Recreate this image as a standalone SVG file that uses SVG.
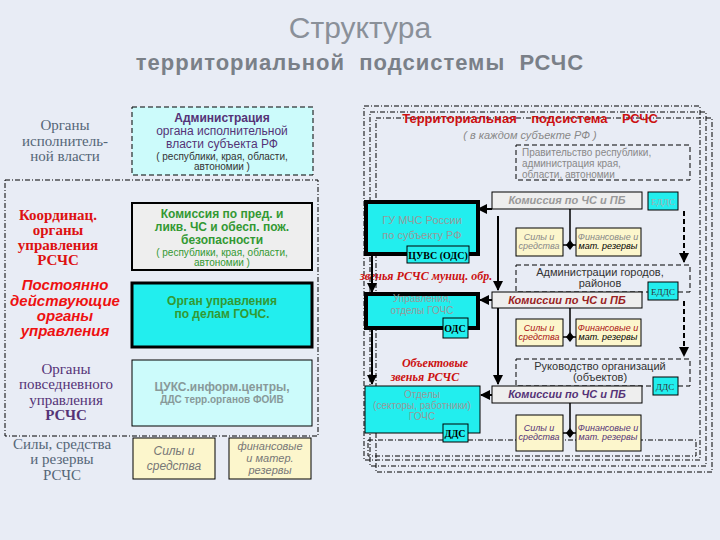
<svg xmlns="http://www.w3.org/2000/svg" width="720" height="540" viewBox="0 0 720 540">
<defs>
<marker id="ar" viewBox="0 0 10 10" refX="9" refY="5" markerWidth="5" markerHeight="5" orient="auto"><path d="M0,0L10,5L0,10z" fill="#000"/></marker>
</defs>
<style>
.s{font-family:"Liberation Sans",Arial,sans-serif}
.r{font-family:"Liberation Serif","Times New Roman",serif}
.lc{fill:#ccfbfb}
.cy{fill:#22eeee}
.ye{fill:#fcf6cc;stroke:#000;stroke-width:1}
.dd{stroke:#000;stroke-width:1;stroke-dasharray:5,3}
.dt{fill:none;stroke:#000;stroke-width:1;stroke-dasharray:5,2,1,2}
.ln{stroke:#000;stroke-width:2;fill:none}
</style>
<rect width="720" height="540" fill="#e8ecf5"/>
<text class="s" x="360" y="38" font-size="30" fill="#8a9099" text-anchor="middle">Структура</text>
<text class="s" x="360" y="70" font-size="22" font-weight="bold" fill="#7a8088" text-anchor="middle" letter-spacing="1" xml:space="preserve">территориальной  подсистемы  РСЧС</text>

<g id="left-labels" class="r" text-anchor="middle">
<text x="65" y="130" font-size="15" fill="#556677">Органы</text>
<text x="65" y="146" font-size="15" fill="#556677">исполнитель-</text>
<text x="65" y="161" font-size="15" fill="#556677">ной власти</text>
<text x="58" y="220" font-size="15" font-weight="bold" fill="#dd1111">Координац.</text>
<text x="58" y="235" font-size="15" font-weight="bold" fill="#dd1111">органы</text>
<text x="58" y="250" font-size="15" font-weight="bold" fill="#dd1111">управления</text>
<text x="58" y="265" font-size="15" font-weight="bold" fill="#dd1111">РСЧС</text>
<text x="66" y="374" font-size="15" fill="#553377">Органы</text>
<text x="66" y="389" font-size="15" fill="#553377">повседневного</text>
<text x="66" y="405" font-size="15" fill="#553377">управления</text>
<text x="66" y="420" font-size="15" font-weight="bold" fill="#553377">РСЧС</text>
<text x="62" y="449" font-size="15" fill="#556677">Силы, средства</text>
<text x="62" y="464" font-size="15" fill="#556677">и резервы</text>
<text x="62" y="480" font-size="15" fill="#556677">РСЧС</text>
</g>
<g id="pdou" class="s" text-anchor="middle" font-style="italic" font-weight="bold" fill="#ee1111" font-size="15">
<text x="65" y="290">Постоянно</text>
<text x="65" y="306">действующие</text>
<text x="65" y="321">органы</text>
<text x="65" y="336">управления</text>
</g>

<rect x="5" y="180" width="313" height="256" class="dt"/>

<g id="admin" class="s" text-anchor="middle">
<rect x="132" y="107" width="181" height="68" class="lc dd"/>
<text x="222" y="122" font-size="12" font-weight="bold" fill="#553377">Администрация</text>
<text x="222" y="135" font-size="12" fill="#553377">органа исполнительной</text>
<text x="222" y="148" font-size="12" fill="#553377">власти субъекта РФ</text>
<text x="222" y="160" font-size="10" fill="#333">( республики, края, области,</text>
<text x="222" y="170" font-size="10" fill="#333">автономии )</text>
</g>
<g id="komissiya" class="s" text-anchor="middle">
<rect x="132" y="203" width="180" height="67" fill="#eeeeee" stroke="#000" stroke-width="2"/>
<text x="222" y="218" font-size="12" font-weight="bold" fill="#339933">Комиссия по пред. и</text>
<text x="222" y="231" font-size="12" font-weight="bold" fill="#339933">ликв. ЧС и обесп. пож.</text>
<text x="222" y="244" font-size="12" font-weight="bold" fill="#339933">безопасности</text>
<text x="222" y="256" font-size="10" fill="#339933">( республики, края, области,</text>
<text x="222" y="266" font-size="10" fill="#339933">автономии )</text>
</g>
<g id="gochs" class="s" text-anchor="middle">
<rect x="132" y="283" width="180" height="64" class="cy" stroke="#000" stroke-width="3"/>
<text x="222" y="305" font-size="12" font-weight="bold" fill="#339933">Орган управления</text>
<text x="222" y="318" font-size="12" font-weight="bold" fill="#339933">по делам ГОЧС.</text>
</g>
<g id="cuks" class="s" text-anchor="middle">
<rect x="132" y="360" width="180" height="66" class="lc" stroke="#000" stroke-width="1"/>
<text x="222" y="391" font-size="12" font-weight="bold" fill="#889999">ЦУКС.информ.центры,</text>
<text x="222" y="403" font-size="10" font-weight="bold" fill="#889999">ДДС терр.органов ФОИВ</text>
</g>
<g id="sily-l" class="s" text-anchor="middle" font-style="italic" fill="#777" font-size="12">
<rect x="133" y="438" width="82" height="41" class="ye"/>
<text x="174" y="455">Силы   и</text>
<text x="174" y="470">средства</text>
</g>
<g id="fin-l" class="s" text-anchor="middle" font-style="italic" fill="#777" font-size="11">
<rect x="229" y="438" width="82" height="41" class="ye"/>
<text x="270" y="450">финансовые</text>
<text x="270" y="462">и матер.</text>
<text x="270" y="474">резервы</text>
</g>

<g id="panel">
<rect x="376" y="118" width="336" height="354" fill="#ccfbfb" class="dt"/>
<rect x="370" y="112" width="336" height="354" fill="#ccfbfb" class="dt"/>
<rect x="364" y="106" width="336" height="354" fill="#ccfbfb" class="dt"/>
<rect x="368" y="440" width="328" height="16" class="dt"/>
<text class="s" x="530" y="123" font-size="13" font-weight="bold" fill="#cc1111" text-anchor="middle" xml:space="preserve">Территориальная    подсистема    РСЧС</text>
<text class="s" x="530" y="139" font-size="11" font-style="italic" fill="#888" text-anchor="middle">( в каждом субъекте РФ )</text>
</g>

<g id="gov" class="s" font-size="10" fill="#888">
<rect x="516" y="145" width="174" height="35" fill="none" class="dd"/>
<text x="522" y="156">Правительство республики,</text>
<text x="522" y="167">администрация края,</text>
<text x="522" y="178">области, автономии</text>
</g>
<g id="adm-gor" class="s" font-size="11" fill="#333" text-anchor="middle">
<rect x="516" y="265" width="174" height="27" fill="none" class="dd"/>
<text x="600" y="276">Администрации городов,</text>
<text x="600" y="287">районов</text>
</g>
<g id="ruk" class="s" font-size="11" fill="#333" text-anchor="middle">
<rect x="516" y="359" width="174" height="27" fill="none" class="dd"/>
<text x="600" y="370">Руководство организаций</text>
<text x="600" y="381">(объектов)</text>
</g>

<g id="kom1" class="s" text-anchor="middle"><rect x="492" y="192" width="150" height="17" fill="#eeeeee" stroke="#000"/><text x="567" y="204" font-size="11" font-style="italic" font-weight="bold" fill="#999">Комиссия по ЧС и ПБ</text></g>
<g id="kom2" class="s" text-anchor="middle"><rect x="492" y="292" width="150" height="16" fill="#eeeeee" stroke="#000"/><text x="567" y="304" font-size="11" font-style="italic" font-weight="bold" fill="#992222">Комиссии по ЧС и ПБ</text></g>
<g id="kom3" class="s" text-anchor="middle"><rect x="492" y="386" width="150" height="17" fill="#eeeeee" stroke="#000"/><text x="567" y="398" font-size="11" font-style="italic" font-weight="bold" fill="#553377">Комиссии по ЧС и ПБ</text></g>

<g id="edds1"><rect x="648" y="192" width="30" height="18" class="cy" stroke="#000"/><text class="r" x="663" y="205" font-size="9" fill="#aaa" text-anchor="middle">ЕДДС</text></g>
<g id="edds2"><rect x="648" y="282" width="30" height="18" class="cy" stroke="#000"/><text class="r" x="663" y="295" font-size="9" fill="#333" text-anchor="middle">ЕДДС</text></g>
<g id="dds3"><rect x="653" y="377" width="25" height="18" class="cy" stroke="#000"/><text class="r" x="665" y="390" font-size="9" fill="#333" text-anchor="middle">ДДС</text></g>

<g id="gu" class="s" text-anchor="middle">
<rect x="366" y="202" width="112" height="52" class="cy" stroke="#000" stroke-width="4"/>
<text x="422" y="224" font-size="11" fill="#999">ГУ МЧС России</text>
<text x="422" y="239" font-size="11" fill="#999">по субъекту РФ</text>
<rect x="407" y="246" width="62" height="17" class="cy" stroke="#000"/>
<text class="r" x="438" y="259" font-size="10" font-weight="bold" fill="#000">ЦУВС (ОДС)</text>
</g>
<g id="upr" class="s" text-anchor="middle">
<rect x="366" y="294" width="112" height="34" class="cy" stroke="#000" stroke-width="4"/>
<text x="422" y="302" font-size="10" fill="#999">Управления,</text>
<text x="422" y="314" font-size="10" fill="#999">отделы ГОЧС</text>
<rect x="443" y="318" width="25" height="20" class="cy" stroke="#000"/>
<text class="r" x="455" y="332" font-size="10" font-weight="bold">ОДС</text>
</g>
<g id="otd" class="s" text-anchor="middle">
<rect x="365" y="386" width="115" height="47" class="cy" stroke="#000"/>
<text x="422" y="398" font-size="10" fill="#999">Отделы</text>
<text x="422" y="409" font-size="10" fill="#999">(секторы, работники)</text>
<text x="422" y="420" font-size="10" fill="#999">ГОЧС</text>
<rect x="443" y="424" width="25" height="18" class="cy" stroke="#000"/>
<text class="r" x="455" y="437" font-size="10" font-weight="bold">ДДС</text>
</g>

<g id="zv1" class="r" font-style="italic" font-weight="bold" fill="#cc1111" font-size="12"><text x="360" y="280">звенья  РСЧС муниц. обр.</text></g>
<g id="zv2" class="r" font-style="italic" font-weight="bold" fill="#cc1111" font-size="12" text-anchor="middle"><text x="435" y="367">Объектовые</text><text x="425" y="381">звенья  РСЧС</text></g>

<g id="sr1" class="s" font-style="italic" font-size="9" text-anchor="middle">
<rect x="516" y="228" width="47" height="28" class="ye"/><text x="539" y="240" fill="#888">Силы  и</text><text x="539" y="249" fill="#888">средства</text>
<rect x="576" y="228" width="65" height="28" class="ye"/><text x="608" y="240" fill="#888">Финансовые и</text><text x="608" y="249" fill="#000">мат. резервы</text>
</g>
<g id="sr2" class="s" font-style="italic" font-size="9" text-anchor="middle">
<rect x="516" y="319" width="47" height="27" class="ye"/><text x="539" y="331" fill="#aa1111">Силы  и</text><text x="539" y="340" fill="#aa1111">средства</text>
<rect x="576" y="319" width="65" height="27" class="ye"/><text x="608" y="331" fill="#aa1111">Финансовые и</text><text x="608" y="340" fill="#000">мат. резервы</text>
</g>
<g id="sr3" class="s" font-style="italic" font-size="9" text-anchor="middle">
<rect x="516" y="415" width="47" height="36" class="ye"/><text x="539" y="431" fill="#553377">Силы  и</text><text x="539" y="440" fill="#553377">средства</text>
<rect x="576" y="415" width="65" height="36" class="ye"/><text x="608" y="431" fill="#553377">Финансовые и</text><text x="608" y="440" fill="#553377">мат. резервы</text>
</g>

<g id="connectors">
<path class="ln" d="M492,209H478" marker-end="url(#ar)"/>
<path class="ln" d="M492,300H480" marker-end="url(#ar)"/>
<path class="ln" d="M492,395H481" marker-end="url(#ar)"/>
<path class="ln" d="M498,216V290" marker-end="url(#ar)"/>
<path class="ln" d="M498,308V384" marker-end="url(#ar)"/>
<path class="ln" d="M372,256V292" marker-end="url(#ar)"/>
<path class="ln" d="M372,330V384" marker-end="url(#ar)"/>
<path d="M570,209V245" stroke="#000" stroke-width="1.5" fill="none"/>
<path d="M563,245H576" stroke="#000" stroke-width="1.5"/>
<path d="M570,240L574,245L570,250L566,245z" fill="#000"/>
<path d="M570,308V337" stroke="#000" stroke-width="1.5"/>
<path d="M563,337H576" stroke="#000" stroke-width="1.5"/>
<path d="M570,332L574,337L570,342L566,337z" fill="#000"/>
<path d="M570,403V433" stroke="#000" stroke-width="1.5"/>
<path d="M563,433H576" stroke="#000" stroke-width="1.5"/>
<path d="M570,428L574,433L570,438L566,433z" fill="#000"/>
<path d="M684,211V262" stroke="#000" stroke-width="2" stroke-dasharray="5,3" marker-end="url(#ar)"/>
<path d="M684,301V356" stroke="#000" stroke-width="2" stroke-dasharray="5,3" marker-end="url(#ar)"/>
</g>
</svg>
